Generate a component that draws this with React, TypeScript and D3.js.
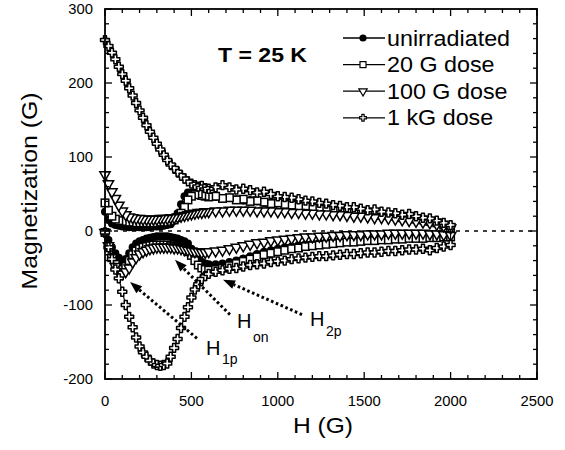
import * as d3 from "d3";

// field values (G), shared by every branch
const fieldH = [
  0, 20, 40, 60, 80, 100, 120, 140, 160, 180, 200, 220, 240, 260, 280, 300, 320, 340, 360, 380,
  400, 420, 440, 460, 480, 500, 520, 540, 560, 580, 600, 640, 680, 720, 760, 800, 840, 880, 920,
  960, 1000, 1040, 1080, 1120, 1160, 1200, 1240, 1280, 1320, 1360, 1400, 1440, 1480, 1520, 1560,
  1600, 1640, 1680, 1720, 1760, 1800, 1840, 1880, 1920, 1960, 2000,
];

// unirradiated
const unirrUp = [
  26, 15, 10, 8, 7, 6, 6, 5, 5, 5, 5, 5, 5, 5, 6, 6, 6, 7, 8, 9, 14, 24, 36, 47, 52, 52, 51, 50, 49, 48, 47,
  46, 44, 45, 43, 41, 42, 40, 38, 39, 37, 36, 34, 35, 33, 31, 32, 30, 28, 29, 27, 25, 26, 24, 22, 23, 20, 19,
  20, 17, 15, 14, 11, 10, 6, 2,
];
const unirrDown = [
  -2, -12, -22, -30, -36, -40, -38, -30, -22, -17, -14, -12, -10, -9, -8, -7, -7, -7, -7, -8, -9, -10, -12,
  -14, -17, -24, -32, -38, -42, -44, -45,
  -45, -44, -42, -40, -37, -34, -31, -28, -26, -24, -22, -21, -19, -18, -17, -16, -15, -14, -13, -13, -12,
  -11, -11, -10, -10, -9, -9, -8, -8, -8, -7, -7, -7, -6, -5,
];

// 20 G dose
const dose20Up = [
  38, 28, 20, 16, 14, 13, 12, 12, 11, 11, 11, 11, 11, 11, 11, 12, 12, 12, 13, 14, 15, 18, 24, 32, 42, 47, 49,
  50, 48, 47, 46,
  47, 44, 45, 42, 43, 40, 41, 39, 37, 38, 36, 35, 33, 34, 32, 30, 31, 29, 28, 27, 25, 26, 24, 23, 21, 22, 20,
  18, 19, 16, 15, 13, 11, 8, 4,
];
const dose20Down = [
  -2, -22, -36, -45, -50, -52, -48, -40, -32, -27, -24, -22, -21, -20, -19, -19, -19, -19, -19, -20, -21,
  -22, -23, -25, -28, -33, -40, -46, -50, -52, -53,
  -52, -50, -47, -44, -41, -38, -35, -32, -30, -28, -26, -24, -23, -21, -20, -19, -18, -17, -16, -15, -15,
  -14, -13, -13, -12, -12, -11, -11, -10, -10, -10, -9, -9, -8, -8,
];

// 100 G dose
const dose100Up = [
  76, 64, 53, 44, 35, 27, 22, 19, 18, 17, 17, 16, 16, 16, 16, 16, 17, 17, 17, 18, 18, 19, 20, 21, 22, 23, 24,
  25, 25, 26, 26,
  27, 27, 28, 28, 28, 28, 27, 27, 27, 26, 26, 25, 25, 24, 24, 23, 23, 22, 22, 21, 20, 20, 19, 18, 18, 17, 16,
  15, 14, 13, 12, 11, 9, 7, 4,
];
const dose100Down = [
  -2, -20, -36, -48, -56, -58, -55, -50, -42, -36, -31, -28, -26, -24, -23, -22, -22, -22, -22, -22, -23,
  -23, -24, -25, -26, -27, -28, -28, -29, -29, -28,
  -27, -26, -24, -22, -20, -18, -16, -15, -13, -12, -11, -10, -9, -8, -8, -7, -7, -6, -6, -5, -5, -5, -4,
  -4, -4, -3, -3, -3, -3, -3, -3, -4, -4, -5, -6,
];

// 1 kG dose
const dose1kUp = [
  258, 250, 241, 232, 222, 212, 203, 193, 183, 173, 163, 153, 143, 134, 126, 118, 110, 103, 96, 90, 85, 80,
  75, 71, 67, 64, 62, 60, 61, 58, 57,
  59, 62, 59, 56, 57, 55, 52, 53, 50, 47, 46, 45, 43, 41, 40, 38, 37, 35, 34, 32, 32, 30, 28, 29, 26, 25, 24,
  22, 23, 20, 18, 17, 14, 11, 8,
];
const dose1kDown = [
  -2, -22, -38, -52, -64, -82, -100, -116, -130, -144, -156, -164, -170, -175, -179, -181, -182, -181, -179,
  -170, -158, -146, -131, -116, -103, -90, -79, -72, -65, -61, -58,
  -55, -53, -51, -50, -48, -46, -45, -44, -42, -41, -40, -38, -37, -36, -35, -34, -34, -33, -32, -31, -31,
  -30, -29, -29, -28, -27, -27, -26, -25, -25, -24, -26, -23, -21, -19,
];

const seriesNames = ["unirradiated", "20 G dose", "100 G dose", "1 kG dose"];
const markerKinds = ["circle", "square", "triangle", "cross"];

const xMajor = [0, 500, 1000, 1500, 2000, 2500];
const xTickLabels = ["0", "500", "1000", "1500", "2000", "2500"];
const yMajor = [-200, -100, 0, 100, 200, 300];
const yTickLabels = ["-200", "-100", "0", "100", "200", "300"];

// annotation arrows, in data units: [H, M]
const annotations = [
  { sub: "1p", tail: [532, -145], tip: [145, -69], at: [584, -168], subDx: 16, subDy: 9 },
  { sub: "on", tail: [723, -113], tip: [405, -39], at: [764, -131], subDx: 16, subDy: 14 },
  { sub: "2p", tail: [1140, -113], tip: [683, -66], at: [1186, -128], subDx: 16, subDy: 10 },
];

const FONT = "'Liberation Sans', Arial, Helvetica, sans-serif";

const x = d3.scaleLinear().domain([0, 2500]).range([105, 537]);
const y = d3.scaleLinear().domain([-200, 300]).range([379, 9]);

const crossPath = d3.symbol(d3.symbolCross, 44)() as string;
const crossSmall = d3.symbol(d3.symbolCross, 26)() as string;
const triPath = d3.symbol(d3.symbolTriangle, 46)() as string;
const triSmall = d3.symbol(d3.symbolTriangle, 30)() as string;

function Marker({ kind, cx, cy, small }: { kind: string; cx: number; cy: number; small?: boolean }) {
  const sw = small ? 1.2 : 1.5;
  if (kind === "circle") return <circle cx={cx} cy={cy} r={small ? 3.6 : 4} fill="#000" />;
  if (kind === "square") {
    const s = small ? 6 : 7.5;
    return (
      <rect x={cx - s / 2} y={cy - s / 2} width={s} height={s} fill="#fff" stroke="#000" strokeWidth={sw} />
    );
  }
  if (kind === "triangle")
    return (
      <path
        d={small ? triSmall : triPath}
        transform={`translate(${cx},${cy}) rotate(180)`}
        fill="#fff"
        stroke="#000"
        strokeWidth={sw}
      />
    );
  return (
    <path
      d={small ? crossSmall : crossPath}
      transform={`translate(${cx},${cy})`}
      fill="#fff"
      stroke="#000"
      strokeWidth={sw}
      strokeLinejoin="round"
    />
  );
}

const App = () => {
  const series = [
    { up: unirrUp, down: unirrDown },
    { up: dose20Up, down: dose20Down },
    { up: dose100Up, down: dose100Down },
    { up: dose1kUp, down: dose1kDown },
  ].map((s, i) => {
    const lower = fieldH.map((h, j) => [h, s.down[j]]);
    const upper = fieldH.map((h, j) => [h, s.up[j]]).reverse();
    return { name: seriesNames[i], kind: markerKinds[i], pts: lower.concat(upper) };
  });

  const line = d3
    .line<number[]>()
    .x((d) => x(d[0]))
    .y((d) => y(d[1]));

  const left = x(0);
  const right = x(2500);
  const top = y(300);
  const bottom = y(-200);

  const xMinor = d3.range(0, 2501, 100);
  const yMinor = d3.range(-200, 301, 20);

  return (
    <svg width={565} height={450} style={{ position: "absolute", left: 0, top: 0, background: "#fff" }}>
      <rect width={565} height={450} fill="#fff" />

      {/* zero line */}
      <line
        x1={left}
        x2={right}
        y1={y(0)}
        y2={y(0)}
        stroke="#000"
        strokeWidth={1.3}
        strokeDasharray="4 5"
      />

      {/* data */}
      {series.map((s) => (
        <g key={s.name}>
          <path d={line(s.pts) as string} fill="none" stroke="#000" strokeWidth={1.1} />
          {s.pts.map((p, i) => (
            <Marker key={i} kind={s.kind} cx={x(p[0])} cy={y(p[1])} />
          ))}
        </g>
      ))}

      {/* frame and ticks */}
      <rect x={left} y={top} width={right - left} height={bottom - top} fill="none" stroke="#000" strokeWidth={1.8} />
      {xMinor.map((v) => {
        const len = v % 500 === 0 ? 7 : 4;
        return (
          <g key={"xm" + v} stroke="#000" strokeWidth={1.3}>
            <line x1={x(v)} x2={x(v)} y1={bottom} y2={bottom - len} />
            <line x1={x(v)} x2={x(v)} y1={top} y2={top + len} />
          </g>
        );
      })}
      {yMinor.map((v) => {
        const len = v % 100 === 0 ? 7 : 4;
        return (
          <g key={"ym" + v} stroke="#000" strokeWidth={1.3}>
            <line x1={left} x2={left + len} y1={y(v)} y2={y(v)} />
            <line x1={right} x2={right - len} y1={y(v)} y2={y(v)} />
          </g>
        );
      })}

      {/* tick labels */}
      <g fontFamily={FONT} fontSize={14} fill="#000">
        {xMajor.map((v, i) => (
          <text key={"xl" + v} transform={`translate(${x(v)},${bottom + 27}) scale(1.06,1)`} textAnchor="middle">
            {xTickLabels[i]}
          </text>
        ))}
        {yMajor.map((v, i) => (
          <text key={"yl" + v} transform={`translate(${left - 12},${y(v) + 5}) scale(1.06,1)`} textAnchor="end">
            {yTickLabels[i]}
          </text>
        ))}
      </g>

      {/* axis titles */}
      <text
        x={(left + right) / 2 + 2}
        y={433}
        textAnchor="middle"
        fontFamily={FONT}
        fontSize={22}
        textLength={60}
        lengthAdjust="spacingAndGlyphs"
      >
        H (G)
      </text>
      <text
        transform={`translate(37,${(top + bottom) / 2 - 3}) rotate(-90)`}
        textAnchor="middle"
        fontFamily={FONT}
        fontSize={22}
        textLength={197}
        lengthAdjust="spacingAndGlyphs"
      >
        Magnetization (G)
      </text>

      <text x={218} y={62} fontFamily={FONT} fontSize={20} fontWeight="bold" textLength={89} lengthAdjust="spacingAndGlyphs">
        T = 25 K
      </text>

      {/* legend */}
      {series.map((s, i) => {
        const ly = 38 + i * 26.6;
        return (
          <g key={"lg" + s.name}>
            <line x1={343} x2={385} y1={ly} y2={ly} stroke="#000" strokeWidth={1.3} />
            <Marker kind={s.kind} cx={363} cy={ly} small />
            <text transform={`translate(387,${ly + 7.5}) scale(1.06,1)`} fontFamily={FONT} fontSize={22}>
              {s.name}
            </text>
          </g>
        );
      })}

      {/* annotations */}
      {annotations.map((a) => {
        const tx = x(a.tail[0]);
        const ty = y(a.tail[1]);
        const px = x(a.tip[0]);
        const py = y(a.tip[1]);
        const dx = px - tx;
        const dy = py - ty;
        const len = Math.hypot(dx, dy);
        const ux = dx / len;
        const uy = dy / len;
        const bx = px - ux * 12;
        const by = py - uy * 12;
        const nx = -uy * 4.5;
        const ny = ux * 4.5;
        const lx = x(a.at[0]);
        const lyy = y(a.at[1]);
        return (
          <g key={a.sub}>
            <line x1={tx} y1={ty} x2={bx} y2={by} stroke="#000" strokeWidth={3} strokeDasharray="2.6 2.6" />
            <polygon points={`${px},${py} ${bx + nx},${by + ny} ${bx - nx},${by - ny}`} fill="#000" />
            <text x={lx} y={lyy} fontFamily={FONT} fontSize={20}>
              H
            </text>
            <text x={lx + a.subDx} y={lyy + a.subDy} fontFamily={FONT} fontSize={14}>
              {a.sub}
            </text>
          </g>
        );
      })}
    </svg>
  );
};

export default App;
